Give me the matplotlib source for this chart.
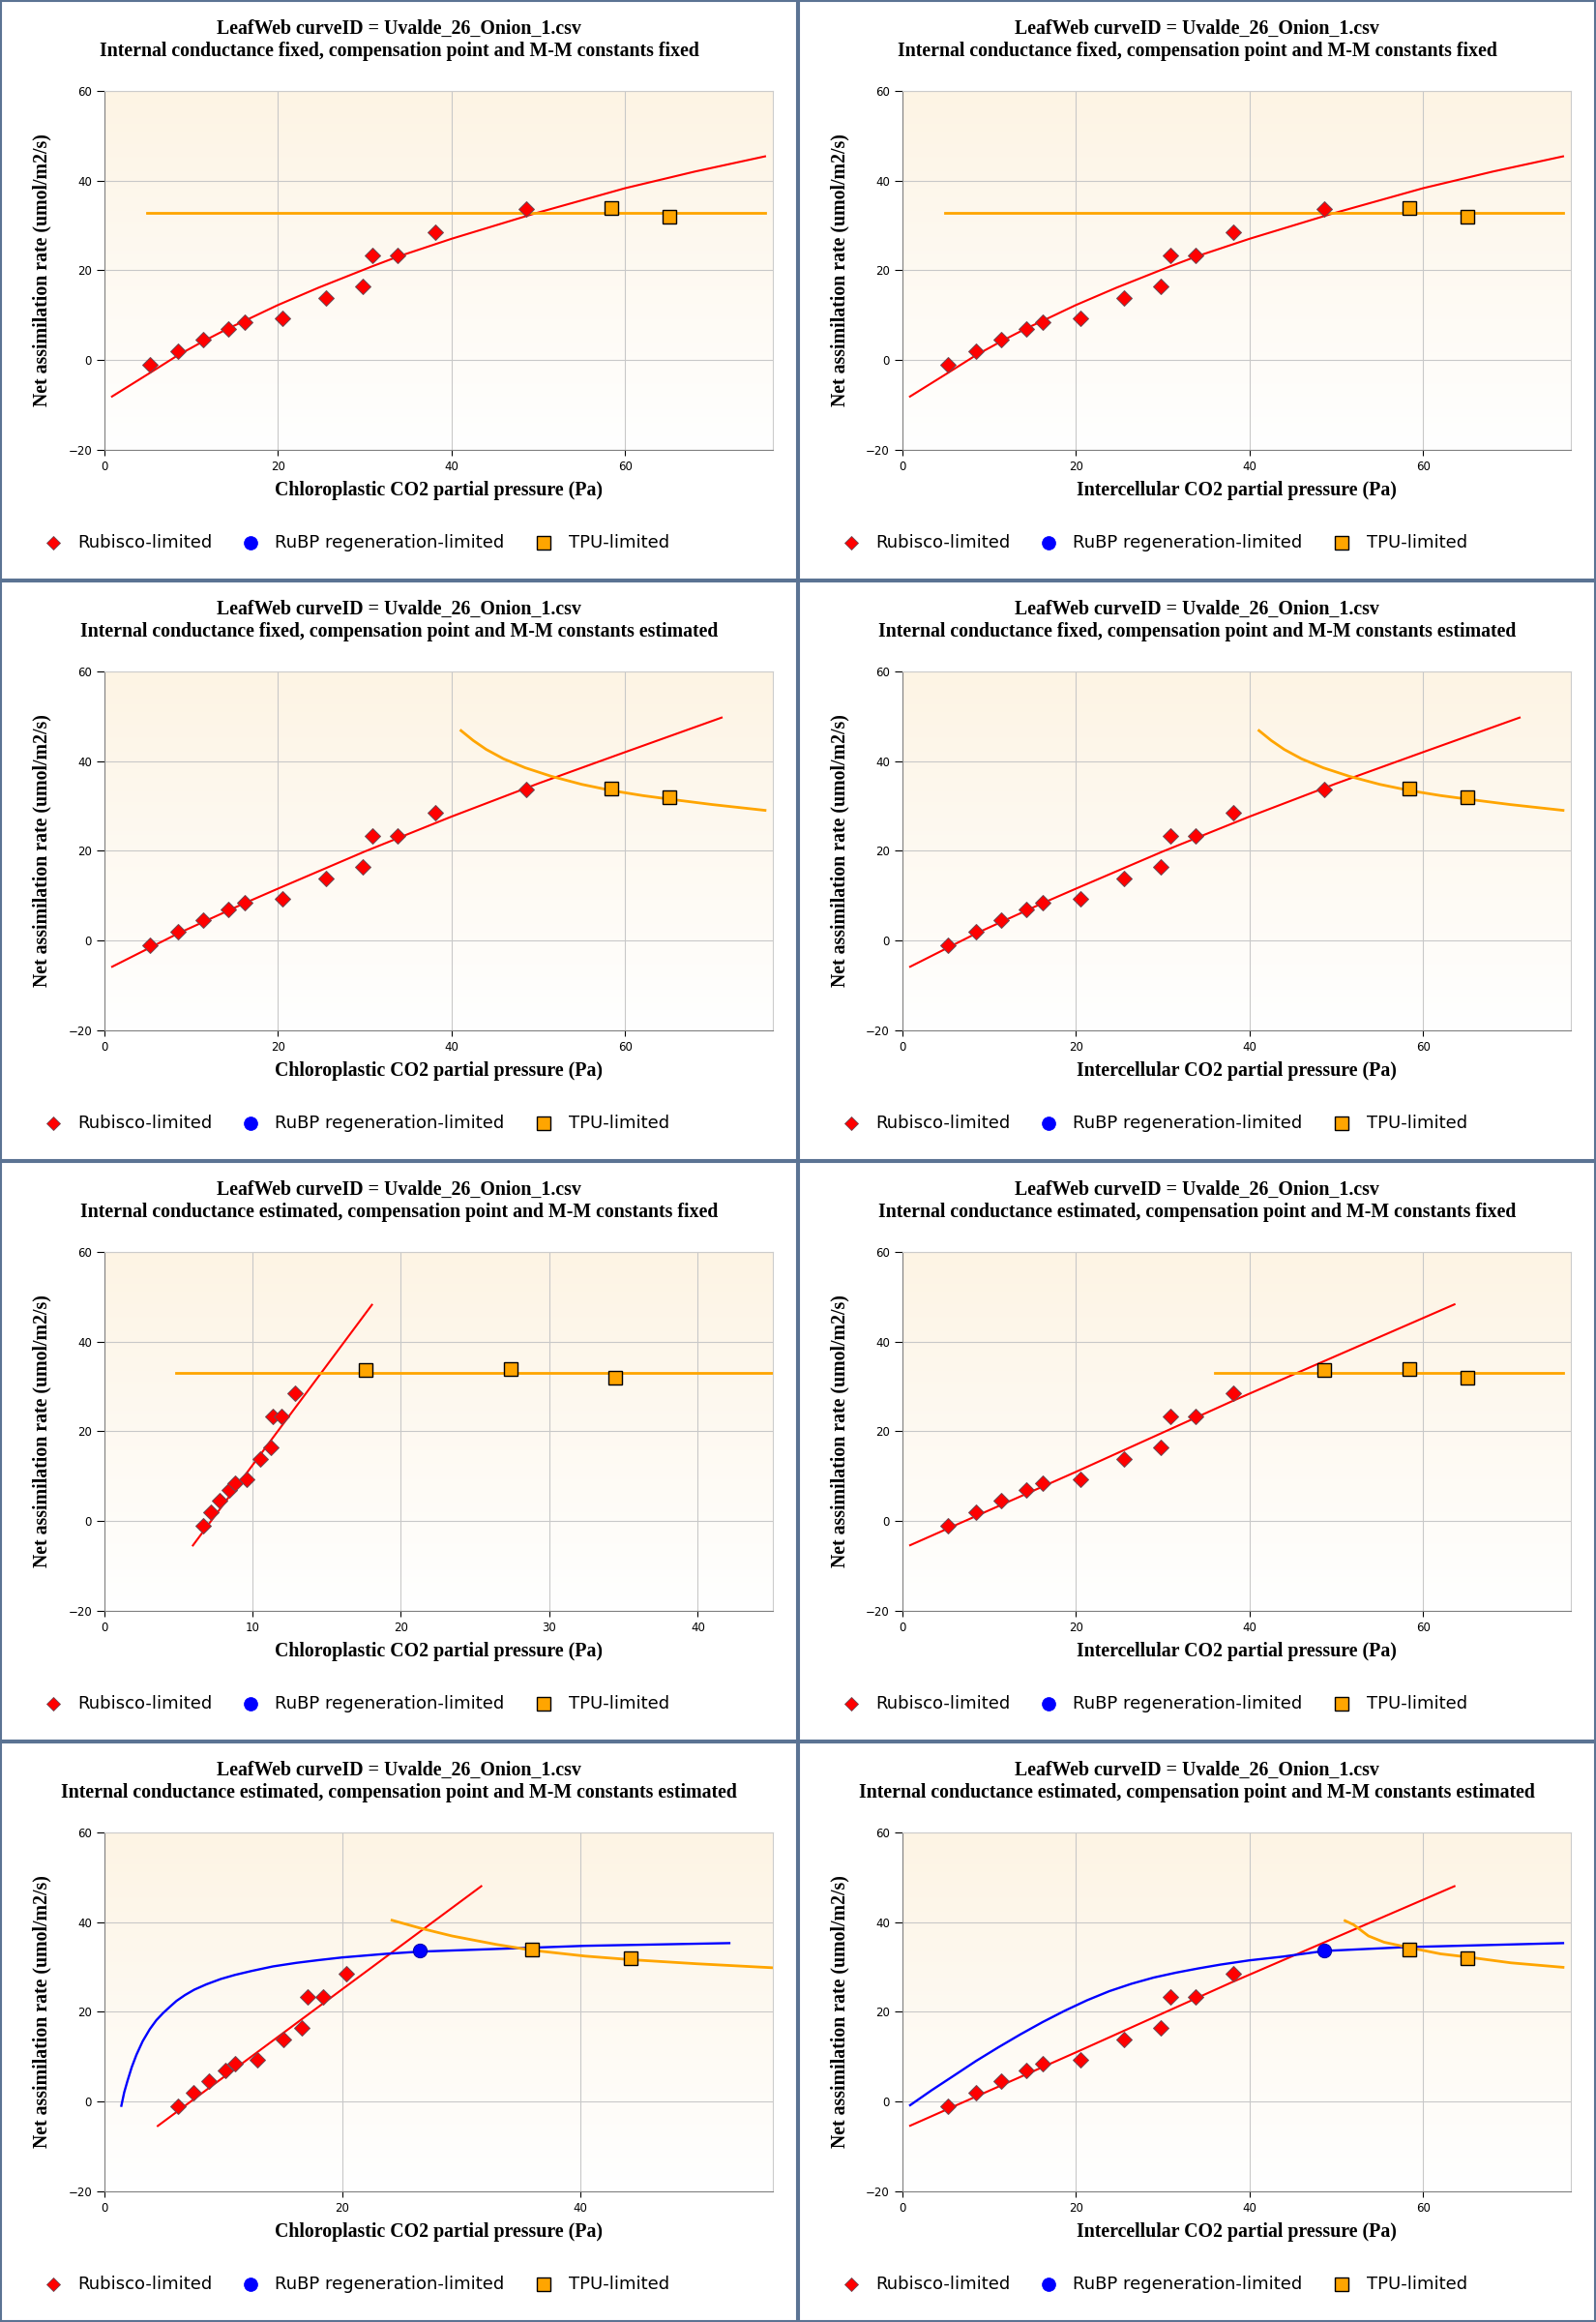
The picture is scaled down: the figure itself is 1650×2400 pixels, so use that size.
import numpy as np
import matplotlib
matplotlib.use("Agg")
import matplotlib.pyplot as plt
from matplotlib.patches import Rectangle

# Observations: intercellular CO2 (Pa) and net assimilation (umol/m2/s)
ci_obs = [5.27, 8.49, 11.41, 14.27, 16.16, 20.5, 25.6, 29.8, 30.9, 33.8, 38.1, 48.6, 58.4, 65.1]
a_obs = [-1.15, 1.87, 4.61, 6.92, 8.5, 9.15, 13.8, 16.4, 23.35, 23.2, 28.5, 33.6, 33.9, 32.0]

# Chloroplastic CO2 for the fits where internal conductance is estimated
cc_gm_est_k_fixed = [6.65, 7.22, 7.78, 8.41, 8.80, 9.64, 10.54, 11.23, 11.38, 11.95, 12.87, 17.63, 27.43, 34.46]
cc_gm_est_k_est = [6.2, 7.54, 8.85, 10.16, 11.02, 12.88, 15.05, 16.66, 17.1, 18.37, 20.35, 26.51, 36.0, 44.29]

# Limitation assigned to each observation (R = Rubisco, J = RuBP regeneration, T = TPU)
lim_fit1 = "RRRRRRRRRRRRTT"
lim_fit2 = "RRRRRRRRRRRRTT"
lim_fit3 = "RRRRRRRRRRRTTT"
lim_fit4 = "RRRRRRRRRRRJTT"

# Fit 1: gm fixed, compensation point and M-M constants fixed
fit1_rub_x = [0.92, 5.27, 8.5, 11.4, 14.3, 16.2, 20.0, 24.7, 30.8, 33.8, 40.0, 49.5, 60.0, 68.0, 76.1]
fit1_rub_y = [-8.2, -2.95, 1.0, 4.1, 7.0, 8.7, 12.2, 16.1, 20.8, 23.0, 27.0, 32.6, 38.3, 42.0, 45.4]
fit1_tpu_x = [4.9, 76.1]
fit1_tpu_y = [32.8, 32.8]

# Fit 2: gm fixed, compensation point and M-M constants estimated
fit2_rub_x = [0.94, 8.5, 16.2, 20.0, 30.0, 40.0, 50.0, 60.0, 71.1]
fit2_rub_y = [-5.9, 1.5, 8.3, 11.5, 19.8, 27.6, 35.0, 42.0, 49.7]
fit2_tpu_x = [41.1, 42.5, 44.0, 46.0, 48.5, 51.5, 55.0, 58.5, 62.0, 65.1, 70.0, 76.1]
fit2_tpu_y = [46.8, 44.6, 42.6, 40.5, 38.5, 36.6, 34.8, 33.4, 32.3, 31.5, 30.3, 29.0]

# Fit 3: gm estimated, compensation point and M-M constants fixed
fit3_cc_rub_x = [5.99, 12.0, 18.05]
fit3_cc_rub_y = [-5.5, 21.3, 48.2]
fit3_cc_tpu_x = [4.88, 45.0]
fit3_cc_tpu_y = [33.0, 33.0]
fit3_ci_rub_x = [0.94, 20.0, 37.9, 63.6]
fit3_ci_rub_y = [-5.45, 10.9, 26.6, 48.3]
fit3_ci_tpu_x = [36.0, 76.1]
fit3_ci_tpu_y = [33.0, 33.0]

# Fit 4: gm estimated, compensation point and M-M constants estimated
fit4_cc_rub_x = [4.52, 31.7]
fit4_cc_rub_y = [-5.5, 48.0]
fit4_cc_rubp_x = [1.46, 1.7, 1.98, 2.33, 2.73, 3.25, 3.85, 4.4, 4.97, 5.5, 6.09, 6.8, 7.58,
                  8.6, 9.82, 11.0, 12.43, 14.2, 16.17, 18.0, 20.0, 23.64, 26.51, 32.97, 40.44, 52.54]
fit4_cc_rubp_y = [-1.0, 2.0, 4.6, 7.6, 10.4, 13.4, 16.1, 18.1, 19.7, 21.0, 22.4, 23.7, 24.9,
                  26.1, 27.3, 28.2, 29.1, 30.1, 30.9, 31.5, 32.1, 32.9, 33.4, 34.0, 34.7, 35.3]
fit4_cc_tpu_x = [24.2, 26.63, 29.24, 32.97, 36.0, 40.44, 44.29, 49.78, 56.2]
fit4_cc_tpu_y = [40.4, 38.6, 36.9, 35.0, 33.7, 32.4, 31.6, 30.7, 29.8]
fit4_ci_rub_x = [0.94, 20.0, 37.9, 63.6]
fit4_ci_rub_y = [-5.45, 10.9, 26.5, 48.0]
fit4_ci_rubp_x = [0.94, 3.41, 5.97, 8.52, 11.08, 13.63, 16.19, 18.75, 21.3, 23.86, 26.42,
                  28.97, 31.53, 34.08, 36.64, 39.97, 43.89, 48.6, 57.9, 76.1]
fit4_ci_rubp_y = [-0.87, 2.46, 5.72, 8.99, 12.03, 14.93, 17.68, 20.22, 22.54, 24.57, 26.23,
                  27.61, 28.7, 29.64, 30.5, 31.45, 32.3, 33.55, 34.4, 35.3]
fit4_ci_tpu_x = [51.0, 52.0, 53.7, 55.5, 58.4, 62.0, 65.1, 70.1, 76.1]
fit4_ci_tpu_y = [40.3, 39.4, 36.9, 35.5, 34.3, 32.9, 32.2, 30.9, 29.9]

title_top = "LeafWeb curveID = Uvalde_26_Onion_1.csv"
subtitles = [
    "Internal conductance fixed, compensation point and M-M constants fixed",
    "Internal conductance fixed, compensation point and M-M constants estimated",
    "Internal conductance estimated, compensation point and M-M constants fixed",
    "Internal conductance estimated, compensation point and M-M constants estimated",
]
xlabel_cc = "Chloroplastic CO2 partial pressure (Pa)"
xlabel_ci = "Intercellular CO2 partial pressure (Pa)"
ylabel = "Net assimilation rate (umol/m2/s)"
legend_labels = ["Rubisco-limited", "RuBP regeneration-limited", "TPU-limited"]

RED, BLUE, ORANGE = "#ff0000", "#0000ff", "#ffa500"

# one entry per panel, row by row (left = chloroplastic, right = intercellular)
panels = [
    dict(x=ci_obs, lim=lim_fit1, xlab=xlabel_cc, xmax=77.0, ticks=[0, 20, 40, 60],
         rub=(fit1_rub_x, fit1_rub_y), rubp=None, tpu=(fit1_tpu_x, fit1_tpu_y)),
    dict(x=ci_obs, lim=lim_fit1, xlab=xlabel_ci, xmax=77.0, ticks=[0, 20, 40, 60],
         rub=(fit1_rub_x, fit1_rub_y), rubp=None, tpu=(fit1_tpu_x, fit1_tpu_y)),
    dict(x=ci_obs, lim=lim_fit2, xlab=xlabel_cc, xmax=77.0, ticks=[0, 20, 40, 60],
         rub=(fit2_rub_x, fit2_rub_y), rubp=None, tpu=(fit2_tpu_x, fit2_tpu_y)),
    dict(x=ci_obs, lim=lim_fit2, xlab=xlabel_ci, xmax=77.0, ticks=[0, 20, 40, 60],
         rub=(fit2_rub_x, fit2_rub_y), rubp=None, tpu=(fit2_tpu_x, fit2_tpu_y)),
    dict(x=cc_gm_est_k_fixed, lim=lim_fit3, xlab=xlabel_cc, xmax=45.06, ticks=[0, 10, 20, 30, 40],
         rub=(fit3_cc_rub_x, fit3_cc_rub_y), rubp=None, tpu=(fit3_cc_tpu_x, fit3_cc_tpu_y)),
    dict(x=ci_obs, lim=lim_fit3, xlab=xlabel_ci, xmax=77.0, ticks=[0, 20, 40, 60],
         rub=(fit3_ci_rub_x, fit3_ci_rub_y), rubp=None, tpu=(fit3_ci_tpu_x, fit3_ci_tpu_y)),
    dict(x=cc_gm_est_k_est, lim=lim_fit4, xlab=xlabel_cc, xmax=56.2, ticks=[0, 20, 40],
         rub=(fit4_cc_rub_x, fit4_cc_rub_y), rubp=(fit4_cc_rubp_x, fit4_cc_rubp_y),
         tpu=(fit4_cc_tpu_x, fit4_cc_tpu_y)),
    dict(x=ci_obs, lim=lim_fit4, xlab=xlabel_ci, xmax=77.0, ticks=[0, 20, 40, 60],
         rub=(fit4_ci_rub_x, fit4_ci_rub_y), rubp=(fit4_ci_rubp_x, fit4_ci_rubp_y),
         tpu=(fit4_ci_tpu_x, fit4_ci_tpu_y)),
]

W, H = 1650, 2400
PW, PH = 825, 600
L, R, T, B = 107.5, 799.0, 94.0, 464.5

fig = plt.figure(figsize=(W / 100, H / 100), dpi=100)
serif = dict(family="Liberation Serif", weight="bold", size=14.3)

# vertical beige-to-white background of the plot area
top_col = np.array([253, 244, 228]) / 255.0
t = np.linspace(0, 1, 256)[:, None, None]
gradient = top_col * (1 - t) + np.ones(3) * t

for i, p in enumerate(panels):
    col, row = i % 2, i // 2
    ax = fig.add_axes([(col * PW + L) / W, 1 - (row * PH + B) / H, (R - L) / W, (B - T) / H])
    ax.imshow(gradient, extent=(0, 1, 0, 1), transform=ax.transAxes, aspect="auto", zorder=0)

    x = np.array(p["x"])
    y = np.array(a_obs)
    lim = np.array(list(p["lim"]))

    ax.plot(*p["rub"], color=RED, lw=1.5, zorder=2)
    if p["rubp"] is not None:
        ax.plot(*p["rubp"], color=BLUE, lw=1.7, zorder=2)
    ax.plot(*p["tpu"], color=ORANGE, lw=2.0, zorder=2)

    m = lim == "R"
    ax.plot(x[m], y[m], ls="none", marker="D", ms=8.0, mfc=RED, mec="#6a4a55", mew=0.7, zorder=3)
    m = lim == "J"
    ax.plot(x[m], y[m], ls="none", marker="o", ms=10.3, mfc=BLUE, mec="#0000aa", mew=0.7, zorder=3)
    m = lim == "T"
    ax.plot(x[m], y[m], ls="none", marker="s", ms=10.3, mfc=ORANGE, mec="black", mew=1.0, zorder=3)

    ax.set_xlim(0, p["xmax"])
    ax.set_ylim(-20, 60)
    ax.set_xticks(p["ticks"])
    ax.set_yticks([-20, 0, 20, 40, 60])
    ax.grid(True, color="#c8c8c8", lw=0.8)
    ax.set_axisbelow(True)
    for s in ["left", "bottom"]:
        ax.spines[s].set_color("#808080")
        ax.spines[s].set_linewidth(0.8)
    for s in ["top", "right"]:
        ax.spines[s].set_color("#cccccc")
        ax.spines[s].set_linewidth(0.8)
    ax.tick_params(axis="y", direction="out", length=6, width=0.8, pad=3,
                   labelsize=8.5, labelfontfamily="DejaVu Sans")
    ax.tick_params(axis="x", direction="out", length=4.5, width=0.8, pad=3.5,
                   labelsize=8.5, labelfontfamily="DejaVu Sans")

    ax.set_xlabel(p["xlab"], fontdict=serif, va="center")
    ax.xaxis.set_label_coords(0.5, -42.5 / (B - T))
    ax.set_ylabel(ylabel, fontdict=serif, va="center")
    ax.yaxis.set_label_coords(-63.8 / (R - L), 0.5)

    cx = (col * PW + PW / 2) / W
    fig.text(cx, 1 - (row * PH + 29.8) / H, title_top, ha="center", va="center", **serif)
    fig.text(cx, 1 - (row * PH + 52.8) / H, subtitles[row], ha="center", va="center", **serif)

# overlay in pixel units for legends and panel borders
ov = fig.add_axes([0, 0, 1, 1])
ov.set_xlim(0, W)
ov.set_ylim(H, 0)
ov.axis("off")
ov.patch.set_alpha(0)

for i in range(len(panels)):
    col, row = i % 2, i // 2
    x0, y0 = col * PW, row * PH
    ly = y0 + 561.4
    ov.plot([x0 + 54.7], [ly], ls="none", marker="D", ms=7.6, mfc=RED, mec="#6a4a55", mew=0.6)
    ov.plot([x0 + 258.9], [ly], ls="none", marker="o", ms=10.0, mfc=BLUE, mec=BLUE, mew=0.5)
    ov.plot([x0 + 562.0], [ly], ls="none", marker="s", ms=10.0, mfc=ORANGE, mec="black", mew=1.0)
    for tx, lab in zip([80, 284, 588], legend_labels):
        ov.text(x0 + tx, ly, lab, ha="left", va="center", family="DejaVu Sans", size=13)
    ov.add_patch(Rectangle((x0 + 1, y0 + 1), PW - 2, PH - 2, fill=False,
                           ec="#5b7393", lw=1.5))

fig.savefig("out.png", dpi=100)
